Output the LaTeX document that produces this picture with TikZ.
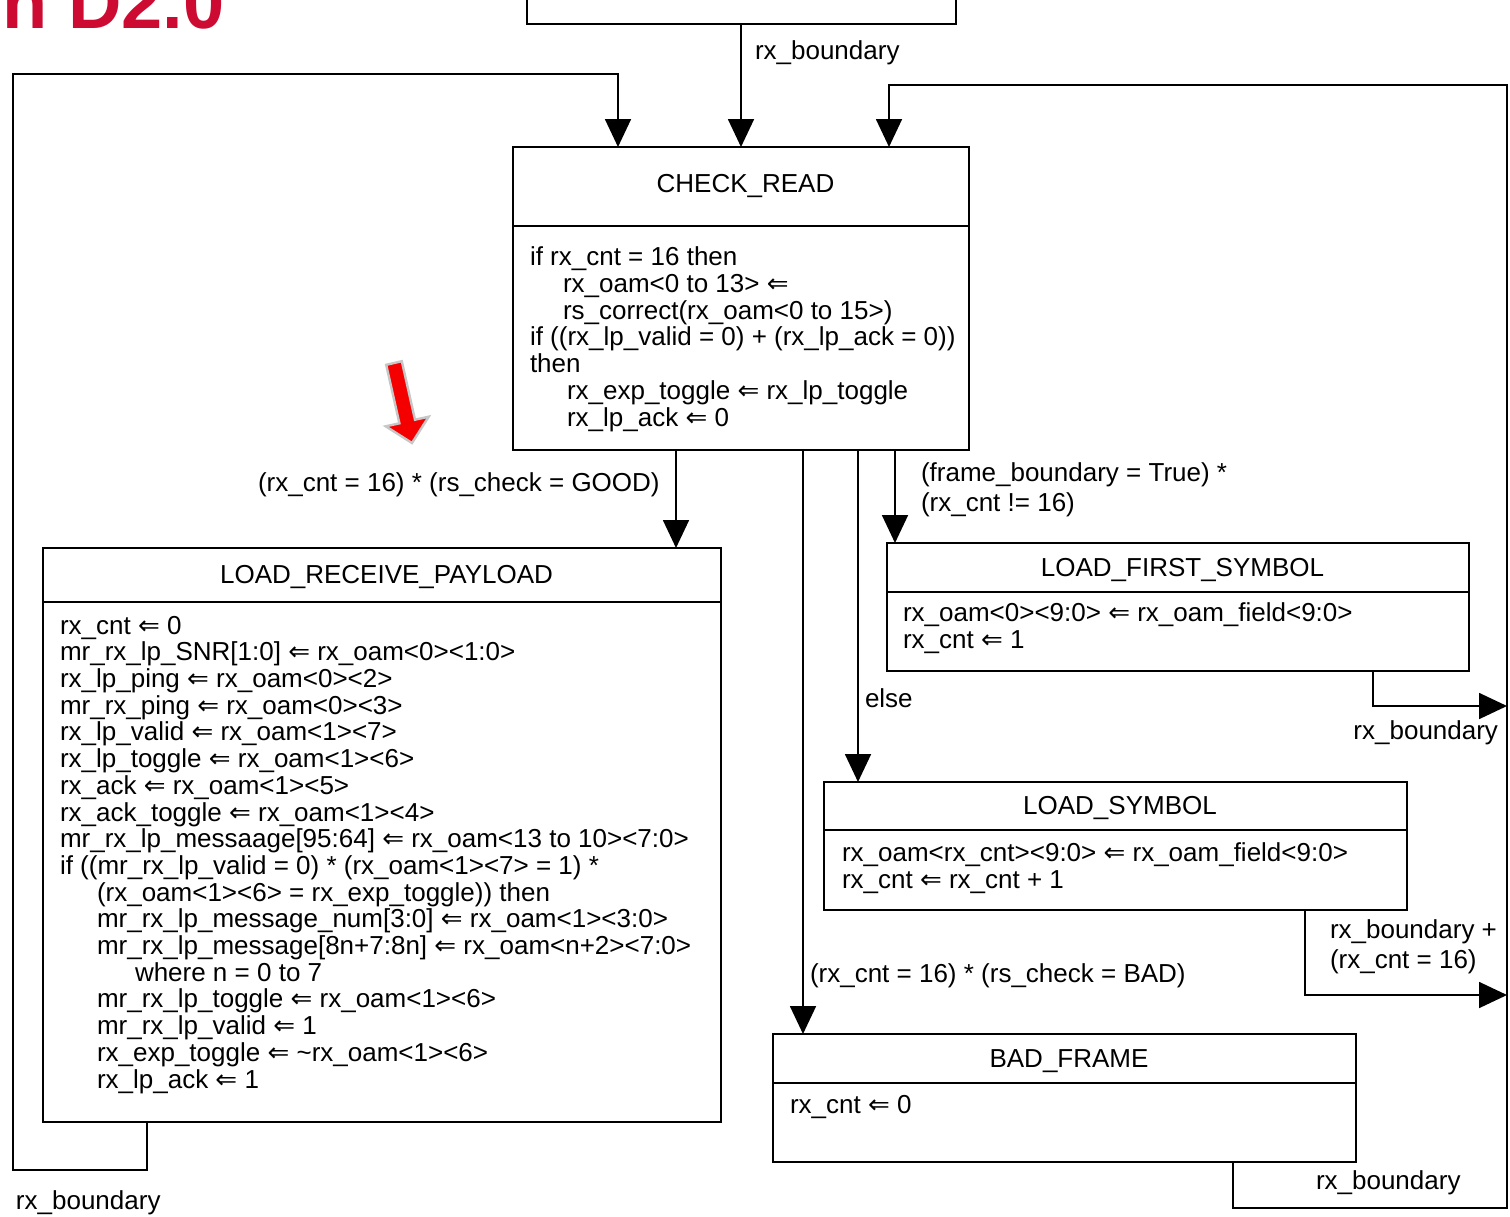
\documentclass[tikz,border=0pt]{standalone}
\usepackage{fontspec}
\setmainfont{Liberation Sans}
\newfontfamily\dejavu{DejaVu Sans}
\usetikzlibrary{arrows.meta}
\newcommand\lar{{\dejavu\char"21D0}}
\definecolor{titlered}{RGB}{204,10,50}
\definecolor{markred}{RGB}{245,0,0}
\begin{document}
\begin{tikzpicture}[x=0.5pt,y=-0.5pt,
  box/.style={draw, line width=1pt, anchor=north west, inner sep=0pt, outer sep=0pt},
  ttl/.style={box, font=\fontsize{13}{15}\selectfont},
  sttl/.style={ttl, text height=9.5pt, text depth=0.6pt},
  txt/.style={anchor=base west, inner sep=0pt, outer sep=0pt, align=left, font=\fontsize{13}{13.35}\selectfont},
  lbl/.style={anchor=base west, inner sep=0pt, outer sep=0pt, align=left, font=\fontsize{13}{14.8}\selectfont},
  conn/.style={line width=0.9pt},
  arr/.style={conn, -{Triangle[width=13pt,length=14pt]}},
]
\useasboundingbox (0,0) rectangle (1510,1216);
\clip (0,0) rectangle (1510,1216);

% cut-off title
\node[anchor=base east, inner sep=0pt, text=titlered, font=\fontsize{37}{37}\selectfont\bfseries] (title) at (225,28) {n D2.0};

% previous (cut-off) state
\node[box, anchor=south west, minimum width=214.5pt, minimum height=50pt] (prev) at (527,24) {};

% CHECK_READ
\node[ttl, minimum width=228pt, minimum height=39.5pt] (cr) at (513,147) {\hspace*{4.5pt}CHECK\_READ};
\node[box, minimum width=228pt, minimum height=112pt] (crb) at (513,226) {};
\node[txt] (crt) at (530,426) {if rx\_cnt = 16 then\\
\hspace*{16.5pt}rx\_oam<0 to 13> \lar\\
\hspace*{16.5pt}rs\_correct(rx\_oam<0 to 15>)\\
if ((rx\_lp\_valid = 0) + (rx\_lp\_ack = 0))\\
then\\
\hspace*{18.5pt}rx\_exp\_toggle \lar{} rx\_lp\_toggle\\
\hspace*{18.5pt}rx\_lp\_ack \lar{} 0};

% LOAD_RECEIVE_PAYLOAD
\node[sttl, minimum width=339pt, minimum height=27pt] (lrp) at (43,548) {\hspace*{4.5pt}LOAD\_RECEIVE\_PAYLOAD};
\node[box, minimum width=339pt, minimum height=260pt] (lrpb) at (43,602) {};
\node[txt] (lrpt) at (60,1088) {rx\_cnt \lar{} 0\\
mr\_rx\_lp\_SNR[1:0] \lar{} rx\_oam<0><1:0>\\
rx\_lp\_ping \lar{} rx\_oam<0><2>\\
mr\_rx\_ping \lar{} rx\_oam<0><3>\\
rx\_lp\_valid \lar{} rx\_oam<1><7>\\
rx\_lp\_toggle \lar{} rx\_oam<1><6>\\
rx\_ack \lar{} rx\_oam<1><5>\\
rx\_ack\_toggle \lar{} rx\_oam<1><4>\\
mr\_rx\_lp\_messaage[95:64] \lar{} rx\_oam<13 to 10><7:0>\\
if ((mr\_rx\_lp\_valid = 0) * (rx\_oam<1><7> = 1) *\\
\hspace*{18.5pt}(rx\_oam<1><6> = rx\_exp\_toggle)) then\\
\hspace*{18.5pt}mr\_rx\_lp\_message\_num[3:0] \lar{} rx\_oam<1><3:0>\\
\hspace*{18.5pt}mr\_rx\_lp\_message[8n+7:8n] \lar{} rx\_oam<n+2><7:0>\\
\hspace*{37.5pt}where n = 0 to 7\\
\hspace*{18.5pt}mr\_rx\_lp\_toggle \lar{} rx\_oam<1><6>\\
\hspace*{18.5pt}mr\_rx\_lp\_valid \lar{} 1\\
\hspace*{18.5pt}rx\_exp\_toggle \lar{} \textasciitilde rx\_oam<1><6>\\
\hspace*{18.5pt}rx\_lp\_ack \lar{} 1};

% LOAD_FIRST_SYMBOL
\node[sttl, minimum width=291pt, minimum height=24.5pt] (lfs) at (887,543) {\hspace*{4.5pt}LOAD\_FIRST\_SYMBOL};
\node[box, minimum width=291pt, minimum height=39.5pt] (lfsb) at (887,592) {};
\node[txt] (lfst) at (903,648) {rx\_oam<0><9:0> \lar{} rx\_oam\_field<9:0>\\
rx\_cnt \lar{} 1};

% LOAD_SYMBOL
\node[sttl, minimum width=291.5pt, minimum height=24pt] (ls) at (824,782) {\hspace*{4.5pt}LOAD\_SYMBOL};
\node[box, minimum width=291.5pt, minimum height=40pt] (lsb) at (824,830) {};
\node[txt] (lst) at (842,888) {rx\_oam<rx\_cnt><9:0> \lar{} rx\_oam\_field<9:0>\\
rx\_cnt \lar{} rx\_cnt + 1};

% BAD_FRAME
\node[sttl, minimum width=291.5pt, minimum height=24.5pt] (bad) at (773,1034) {\hspace*{4.5pt}BAD\_FRAME};
\node[box, minimum width=291.5pt, minimum height=39.5pt] (badb) at (773,1083) {};
\node[txt] (badt) at (790,1113) {rx\_cnt \lar{} 0};

% free ends on the right-hand return line
\coordinate (r1) at (1507,706);
\coordinate (r2) at (1507,995);

% connectors
\draw[arr] (prev.south -| 741,0) -- (cr.north -| 741,0);
\draw[arr] (lrpb.south -| 147,0) |- (13,1170) |- (618,74) -- (cr.north -| 618,0);
\draw[arr] (badb.south -| 1233,0) |- (1507,1208) |- (889,85) -- (cr.north -| 889,0);
\draw[arr] (lfsb.south -| 1373,0) |- (r1);
\draw[arr] (lsb.south -| 1305,0) |- (r2);
\draw[arr] (crb.south -| 676,0) -- (lrp.north -| 676,0);
\draw[arr] (crb.south -| 803,0) -- (bad.north -| 803,0);
\draw[arr] (crb.south -| 858,0) -- (ls.north -| 858,0);
\draw[arr] (crb.south -| 895,0) -- (lfs.north -| 895,0);

% labels
\node[lbl] (l1) at (755,59) {rx\_boundary};
\node[lbl] (l2) at (258,491) {(rx\_cnt = 16) * (rs\_check = GOOD)};
\node[lbl] (l3) at (921,511) {(frame\_boundary = True) *\\(rx\_cnt != 16)};
\node[lbl] (l4) at (865,707) {else};
\node[lbl, anchor=base east] (l5) at (1498,739) {rx\_boundary};
\node[lbl] (l6) at (1330,968) {rx\_boundary +\\(rx\_cnt = 16)};
\node[lbl] (l7) at (810,982) {(rx\_cnt = 16) * (rs\_check = BAD)};
\node[lbl] (l8) at (1316,1189) {rx\_boundary};
\node[lbl] (l9) at (16,1209) {rx\_boundary};

% red marker arrow
\filldraw[fill=markred, draw=black!22, line width=1.2pt, line join=miter]
  (386.2,364.8) -- (401.8,361.2) -- (415,419.7) -- (428.7,416.7) -- (412,443)
  -- (385.7,426.3) -- (399.4,423.3) -- cycle;
\end{tikzpicture}
\end{document}
